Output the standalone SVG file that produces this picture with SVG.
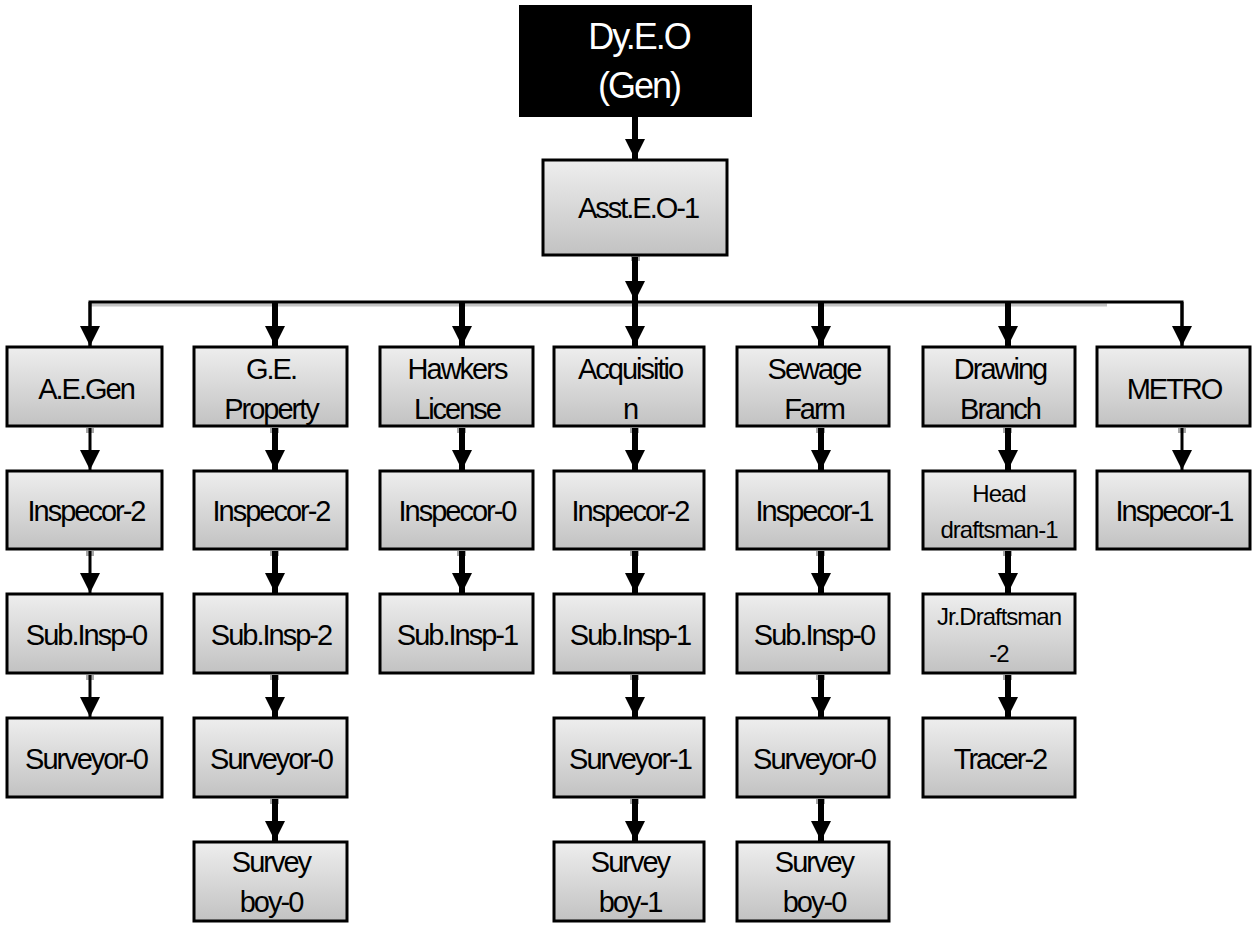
<svg xmlns="http://www.w3.org/2000/svg" width="1257" height="930" viewBox="0 0 1257 930">
<style>
.box{fill:url(#g);stroke:#000;stroke-width:3}
.t{font-family:"Liberation Sans",Arial,sans-serif;font-size:29px;fill:#000;text-anchor:middle;letter-spacing:-2px}
.s{font-size:24px;letter-spacing:-1px}
.w{fill:#fff;font-size:36px;letter-spacing:-2px}
.thin{stroke:#000;stroke-width:3;fill:none;marker-end:url(#ah)}
.thick{stroke:#000;stroke-width:6;fill:none;marker-end:url(#ah)}
.stub{fill:#a8a8a8}
</style>
<defs>
<linearGradient id="g" x1="0" y1="0" x2="0" y2="1">
<stop offset="0" stop-color="#eeeeee"/>
<stop offset="1" stop-color="#c2c2c2"/>
</linearGradient>
<marker id="ah" markerUnits="userSpaceOnUse" markerWidth="20" markerHeight="20" refX="20" refY="10" orient="auto" viewBox="0 0 20 20">
<path d="M0,0 L20,10 L0,20 z" fill="#000"/>
</marker>
</defs>

<g id="connectors">
<rect class="stub" x="631" y="256" width="9" height="5"/>
<line x1="90" y1="305" x2="1107" y2="305" stroke="#c4c4c4" stroke-width="3"/>
<polyline points="90,346 90,302 1182,302 1182,346" fill="none" stroke="#000" stroke-width="3"/>
<line class="thick" x1="635" y1="117" x2="635" y2="159"/>
<line class="thick" x1="635" y1="257" x2="635" y2="301"/>
<line class="thin" x1="90" y1="302" x2="90" y2="346"/>
<line class="thick" x1="275" y1="302" x2="275" y2="346"/>
<line class="thick" x1="462" y1="302" x2="462" y2="346"/>
<line class="thick" x1="635" y1="302" x2="635" y2="346"/>
<line class="thick" x1="821" y1="302" x2="821" y2="346"/>
<line class="thick" x1="1008" y1="302" x2="1008" y2="346"/>
<line class="thin" x1="1182" y1="302" x2="1182" y2="346"/>
<!-- col1 -->
<rect class="stub" x="86" y="428" width="8" height="5"/>
<rect class="stub" x="86" y="551" width="8" height="5"/>
<rect class="stub" x="86" y="675" width="8" height="5"/>
<line class="thin" x1="90" y1="428" x2="90" y2="470"/>
<line class="thin" x1="90" y1="551" x2="90" y2="593"/>
<line class="thin" x1="90" y1="675" x2="90" y2="717"/>
<!-- col2 -->
<rect class="stub" x="270" y="428" width="9" height="5"/>
<rect class="stub" x="270" y="551" width="9" height="5"/>
<rect class="stub" x="270" y="675" width="9" height="5"/>
<rect class="stub" x="270" y="799" width="9" height="5"/>
<line class="thick" x1="275" y1="428" x2="275" y2="470"/>
<line class="thick" x1="275" y1="551" x2="275" y2="593"/>
<line class="thick" x1="275" y1="675" x2="275" y2="717"/>
<line class="thick" x1="275" y1="799" x2="275" y2="841"/>
<!-- col3 -->
<rect class="stub" x="457" y="428" width="9" height="5"/>
<rect class="stub" x="457" y="551" width="9" height="5"/>
<line class="thick" x1="462" y1="428" x2="462" y2="470"/>
<line class="thick" x1="462" y1="551" x2="462" y2="593"/>
<!-- col4 -->
<rect class="stub" x="630" y="428" width="9" height="5"/>
<rect class="stub" x="630" y="551" width="9" height="5"/>
<rect class="stub" x="630" y="675" width="9" height="5"/>
<rect class="stub" x="630" y="799" width="9" height="5"/>
<line class="thick" x1="635" y1="428" x2="635" y2="470"/>
<line class="thick" x1="635" y1="551" x2="635" y2="593"/>
<line class="thick" x1="635" y1="675" x2="635" y2="717"/>
<line class="thick" x1="635" y1="799" x2="635" y2="841"/>
<!-- col5 -->
<rect class="stub" x="816" y="428" width="9" height="5"/>
<rect class="stub" x="816" y="551" width="9" height="5"/>
<rect class="stub" x="816" y="675" width="9" height="5"/>
<rect class="stub" x="816" y="799" width="9" height="5"/>
<line class="thick" x1="821" y1="428" x2="821" y2="470"/>
<line class="thick" x1="821" y1="551" x2="821" y2="593"/>
<line class="thick" x1="821" y1="675" x2="821" y2="717"/>
<line class="thick" x1="821" y1="799" x2="821" y2="841"/>
<!-- col6 -->
<rect class="stub" x="1003" y="428" width="9" height="5"/>
<rect class="stub" x="1003" y="551" width="9" height="5"/>
<rect class="stub" x="1003" y="675" width="9" height="5"/>
<line class="thick" x1="1008" y1="428" x2="1008" y2="470"/>
<line class="thick" x1="1008" y1="551" x2="1008" y2="593"/>
<line class="thick" x1="1008" y1="675" x2="1008" y2="717"/>
<!-- col7 -->
<rect class="stub" x="1178" y="428" width="8" height="5"/>
<line class="thin" x1="1182" y1="428" x2="1182" y2="470"/>
</g>

<g id="dyeo">
<rect x="519" y="5" width="233" height="112" fill="#000"/>
<text class="t w" x="639" y="49">Dy.E.O</text>
<text class="t w" x="639" y="98">(Gen)</text>
</g>
<g id="asst">
<rect class="box" x="543" y="160" width="184" height="95"/>
<text class="t" x="638" y="218">Asst.E.O-1</text>
</g>

<g id="aegen"><rect class="box" x="7" y="347" width="155" height="79"/><text class="t" x="86" y="399">A.E.Gen</text></g>
<g id="ge"><rect class="box" x="194" y="347" width="153" height="79"/><text class="t" x="271" y="379">G.E.</text><text class="t" x="271" y="419">Property</text></g>
<g id="hawkers"><rect class="box" x="380" y="347" width="153" height="79"/><text class="t" x="457" y="379">Hawkers</text><text class="t" x="457" y="419">License</text></g>
<g id="acq"><rect class="box" x="554" y="347" width="150" height="79"/><text class="t" x="630" y="379">Acquisitio</text><text class="t" x="630" y="419">n</text></g>
<g id="sewage"><rect class="box" x="737" y="347" width="152" height="79"/><text class="t" x="814" y="379">Sewage</text><text class="t" x="814" y="419">Farm</text></g>
<g id="drawing"><rect class="box" x="923" y="347" width="152" height="79"/><text class="t" x="1000" y="379">Drawing</text><text class="t" x="1000" y="419">Branch</text></g>
<g id="metro"><rect class="box" x="1097" y="347" width="153" height="79"/><text class="t" x="1174" y="399">METRO</text></g>

<g id="c1r2"><rect class="box" x="7" y="471" width="155" height="78"/><text class="t" x="86" y="521">Inspecor-2</text></g>
<g id="c1r3"><rect class="box" x="7" y="594" width="155" height="79"/><text class="t" x="86" y="645">Sub.Insp-0</text></g>
<g id="c1r4"><rect class="box" x="7" y="718" width="155" height="79"/><text class="t" x="86" y="769">Surveyor-0</text></g>

<g id="c2r2"><rect class="box" x="194" y="471" width="153" height="78"/><text class="t" x="271" y="521">Inspecor-2</text></g>
<g id="c2r3"><rect class="box" x="194" y="594" width="153" height="79"/><text class="t" x="271" y="645">Sub.Insp-2</text></g>
<g id="c2r4"><rect class="box" x="194" y="718" width="153" height="79"/><text class="t" x="271" y="769">Surveyor-0</text></g>
<g id="c2r5"><rect class="box" x="194" y="842" width="153" height="79"/><text class="t" x="271" y="872">Survey</text><text class="t" x="271" y="912">boy-0</text></g>

<g id="c3r2"><rect class="box" x="380" y="471" width="153" height="78"/><text class="t" x="457" y="521">Inspecor-0</text></g>
<g id="c3r3"><rect class="box" x="380" y="594" width="153" height="79"/><text class="t" x="457" y="645">Sub.Insp-1</text></g>

<g id="c4r2"><rect class="box" x="554" y="471" width="150" height="78"/><text class="t" x="630" y="521">Inspecor-2</text></g>
<g id="c4r3"><rect class="box" x="554" y="594" width="150" height="79"/><text class="t" x="630" y="645">Sub.Insp-1</text></g>
<g id="c4r4"><rect class="box" x="554" y="718" width="150" height="79"/><text class="t" x="630" y="769">Surveyor-1</text></g>
<g id="c4r5"><rect class="box" x="554" y="842" width="150" height="79"/><text class="t" x="630" y="872">Survey</text><text class="t" x="630" y="912">boy-1</text></g>

<g id="c5r2"><rect class="box" x="737" y="471" width="152" height="78"/><text class="t" x="814" y="521">Inspecor-1</text></g>
<g id="c5r3"><rect class="box" x="737" y="594" width="152" height="79"/><text class="t" x="814" y="645">Sub.Insp-0</text></g>
<g id="c5r4"><rect class="box" x="737" y="718" width="152" height="79"/><text class="t" x="814" y="769">Surveyor-0</text></g>
<g id="c5r5"><rect class="box" x="737" y="842" width="152" height="79"/><text class="t" x="814" y="872">Survey</text><text class="t" x="814" y="912">boy-0</text></g>

<g id="c6r2"><rect class="box" x="923" y="471" width="152" height="78"/><text class="t s" x="999" y="502">Head</text><text class="t s" x="999" y="538">draftsman-1</text></g>
<g id="c6r3"><rect class="box" x="923" y="594" width="152" height="79"/><text class="t s" x="999" y="625">Jr.Draftsman</text><text class="t s" x="999" y="662">-2</text></g>
<g id="c6r4"><rect class="box" x="923" y="718" width="152" height="79"/><text class="t" x="1000" y="769">Tracer-2</text></g>

<g id="c7r2"><rect class="box" x="1097" y="471" width="153" height="78"/><text class="t" x="1174" y="521">Inspecor-1</text></g>
</svg>
